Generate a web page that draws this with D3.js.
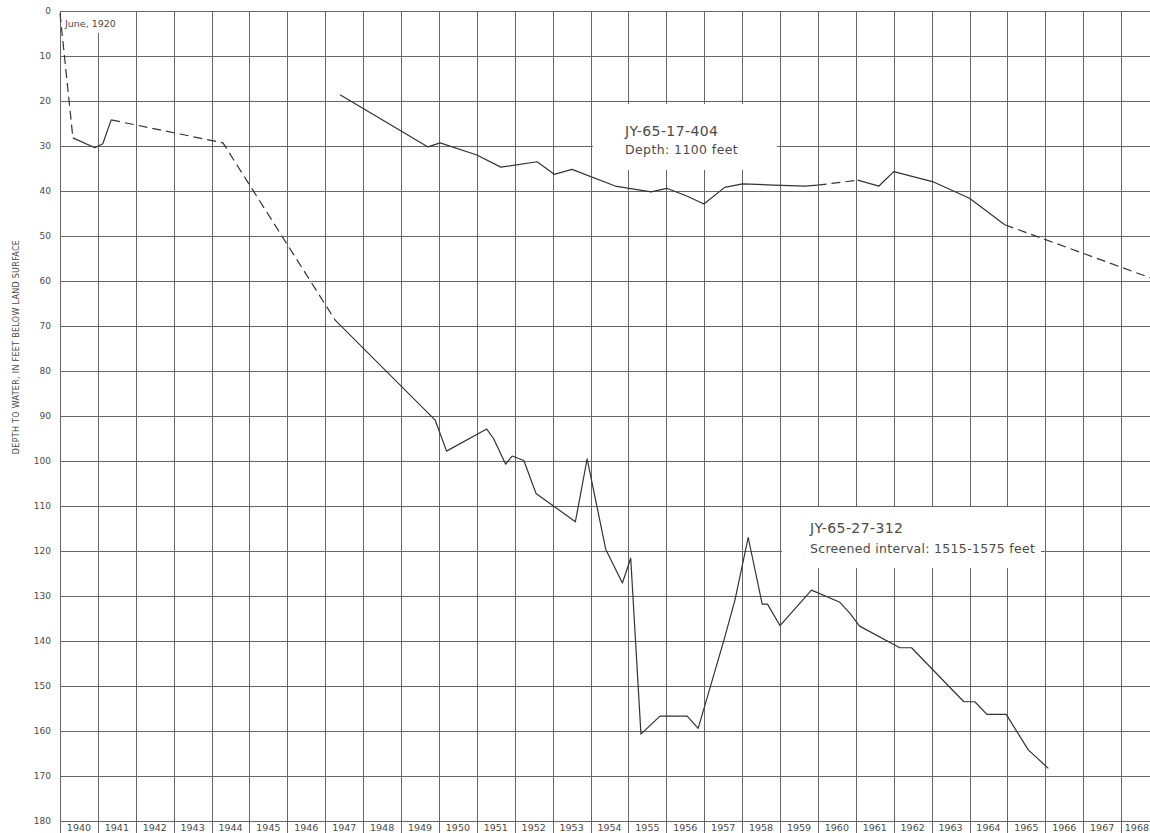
<!DOCTYPE html>
<html>
<head>
<meta charset="utf-8">
<script src="https://cdn.jsdelivr.net/npm/d3@7"></script>
<style>
  body { margin: 0; background: #fff; }
  svg { display: block; }
  text { font-family: "DejaVu Sans", sans-serif; fill: #4a4a4a; }
</style>
</head>
<body>
<div id="chart"></div>
<script>
// SVG Size
let width = 1150,
	height = 833;

// year axis (labels sit between gridlines) and depth ticks
let years = d3.range(1940, 1969);
let depthTicks = d3.range(0, 181, 10);

// JY-65-27-312 (lower well) : year, depth below land surface
let well312Years = [1940.0, 1940.34, 1940.92, 1941.13, 1941.35, 1944.3, 1947.26, 1949.9, 1950.2, 1951.26,
	1951.44, 1951.76, 1951.93, 1952.24, 1952.56, 1953.6, 1953.91, 1954.4, 1954.84, 1955.06,
	1955.33, 1955.83, 1956.55, 1956.84, 1957.52, 1957.81, 1958.16, 1958.53, 1958.67, 1959.0,
	1959.83, 1960.58, 1960.84, 1961.1, 1962.16, 1962.47, 1963.85, 1964.14, 1964.46, 1964.97,
	1965.55, 1966.08];
let well312Depths = [0.5, 28.2, 30.4, 29.5, 24.2, 29.3, 68.7, 90.9, 97.8, 92.9,
	95.0, 100.7, 98.9, 99.9, 107.2, 113.5, 99.5, 119.6, 127.1, 121.6,
	160.7, 156.7, 156.7, 159.4, 139.8, 130.9, 117.0, 131.8, 131.8, 136.6,
	128.7, 131.4, 133.8, 136.7, 141.5, 141.5, 153.5, 153.5, 156.3, 156.3,
	164.2, 168.3];
// 1 = segment drawn dashed (estimated), one flag per segment
let well312Dashed = [1, 0, 0, 0, 1, 1];

// JY-65-17-404 (upper well)
let well404Years = [1947.39, 1949.71, 1950.03, 1951.0, 1951.63, 1952.59, 1953.04, 1953.51, 1954.65, 1955.6,
	1956.01, 1956.54, 1956.99, 1957.54, 1958.01, 1958.84, 1959.66, 1959.99, 1961.05, 1961.61,
	1962.0, 1963.02, 1964.0, 1964.93, 1969.0];
let well404Depths = [18.6, 30.2, 29.3, 32.0, 34.7, 33.5, 36.3, 35.2, 38.9, 40.2,
	39.4, 41.1, 42.9, 39.2, 38.4, 38.7, 38.9, 38.7, 37.6, 38.9,
	35.7, 37.9, 41.6, 47.5, 60.0];
let well404Dashed = [0, 0, 0, 0, 0, 0, 0, 0, 0, 0, 0, 0, 0, 0, 0, 0, 0, 1, 0, 0, 0, 0, 0, 1];

let svg = d3.select('#chart').append('svg')
	.attr('width', width)
	.attr('height', height);

svg.append('rect').attr('width', width).attr('height', height).attr('fill', '#fff');

let xScale = d3.scaleLinear()
	.domain([1940, 1969])
	.range([60, 1159]);

let yScale = d3.scaleLinear()
	.domain([0, 180])
	.range([11, 821]);

let grid = svg.append('g').attr('stroke', '#666').attr('stroke-width', 1);

// vertical year lines run down through the label band
grid.selectAll('line.v')
	.data(d3.range(1940, 1970))
	.enter()
	.append('line')
	.attr('class', 'v')
	.attr('x1', d => Math.round(xScale(d)) + 0.5)
	.attr('x2', d => Math.round(xScale(d)) + 0.5)
	.attr('y1', yScale(0))
	.attr('y2', height + 5);

grid.selectAll('line.h')
	.data(depthTicks)
	.enter()
	.append('line')
	.attr('class', 'h')
	.attr('x1', xScale(1940))
	.attr('x2', xScale(1969))
	.attr('y1', d => Math.round(yScale(d)) + 0.5)
	.attr('y2', d => Math.round(yScale(d)) + 0.5);

// white panels behind the notes
let notes = [
	{x: 61, y: 12, w: 64, h: 21},
	{x: 593, y: 104, w: 184, h: 66},
	{x: 782, y: 507, w: 259, h: 61}
];
svg.selectAll('rect.note')
	.data(notes)
	.enter()
	.append('rect')
	.attr('class', 'note')
	.attr('x', d => d.x).attr('y', d => d.y)
	.attr('width', d => d.w).attr('height', d => d.h)
	.attr('fill', '#fff');

// depth labels
svg.selectAll('text.ytick')
	.data(depthTicks)
	.enter()
	.append('text')
	.attr('class', 'ytick')
	.attr('x', 51)
	.attr('y', d => yScale(d))
	.attr('dy', '0.35em')
	.attr('text-anchor', 'end')
	.style('font-size', '9px')
	.text(d => d);

// year labels; the last one is pulled in so it stays on the page
svg.selectAll('text.xtick')
	.data(years)
	.enter()
	.append('text')
	.attr('class', 'xtick')
	.attr('x', d => d === 1968 ? width - 1 : xScale(d + 0.5))
	.attr('y', 831)
	.attr('text-anchor', d => d === 1968 ? 'end' : 'middle')
	.style('font-size', '9.5px')
	.text(d => d);

svg.append('text')
	.attr('transform', 'translate(19,347) rotate(-90)')
	.attr('text-anchor', 'middle')
	.style('font-size', '8px')
	.style('letter-spacing', '0.3px')
	.text('DEPTH TO WATER, IN FEET BELOW LAND SURFACE');

// draw a well as segments, dashed where flagged
function drawWell(yrs, depths, dashed) {
	let pts = yrs.map((y, i) => [xScale(y), yScale(depths[i])]);
	let segs = d3.pairs(pts).map((p, i) => ({p: p, dash: dashed[i] === 1}));
	let g = svg.append('g');
	// join consecutive segments with the same style into one path
	let runs = [];
	segs.forEach(s => {
		let last = runs[runs.length - 1];
		if (last && last.dash === s.dash) last.pts.push(s.p[1]);
		else runs.push({dash: s.dash, pts: [s.p[0], s.p[1]]});
	});
	g.selectAll('path')
		.data(runs)
		.enter()
		.append('path')
		.attr('d', d => d3.line()(d.pts))
		.attr('fill', 'none')
		.attr('stroke', '#333')
		.attr('stroke-width', 1.2)
		.attr('stroke-linejoin', 'round')
		.attr('stroke-dasharray', d => d.dash ? '9,5' : null);
}

drawWell(well312Years, well312Depths, well312Dashed);
drawWell(well404Years, well404Depths, well404Dashed);

// notes
svg.append('text').attr('x', 65).attr('y', 26.5).style('font-size', '9.5px').text('June, 1920');

svg.append('text').attr('x', 625).attr('y', 136).style('font-size', '14px').style('letter-spacing', '0.4px').text('JY-65-17-404');
svg.append('text').attr('x', 625).attr('y', 153.5).style('font-size', '12.5px').style('letter-spacing', '0.4px').text('Depth: 1100 feet');

svg.append('text').attr('x', 810).attr('y', 533).style('font-size', '14px').style('letter-spacing', '0.4px').text('JY-65-27-312');
svg.append('text').attr('x', 810).attr('y', 552.5).style('font-size', '12.5px').style('letter-spacing', '0.3px').text('Screened interval: 1515-1575 feet');
</script>
</body>
</html>
